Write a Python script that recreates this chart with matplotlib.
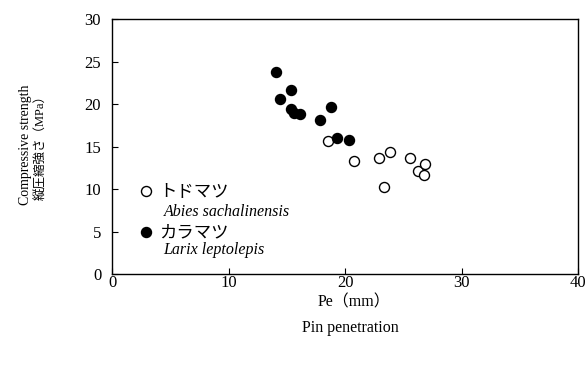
import matplotlib.pyplot as plt

# トドマツ (open circles)
todo_pe = [18.5, 20.8, 22.9, 23.85, 23.3, 25.6, 26.3, 26.9, 26.8]
todo_cs = [15.6, 13.3, 13.7, 14.3, 10.2, 13.6, 12.15, 13.0, 11.7]

# カラマツ (filled circles)
kara_pe = [14.05, 14.4, 15.35, 15.35, 15.6, 16.1, 17.8, 18.8, 19.3, 20.3]
kara_cs = [23.8, 20.55, 21.6, 19.4, 19.0, 18.8, 18.1, 19.7, 16.0, 15.8]

x_ticks = [0, 10, 20, 30, 40]
y_ticks = [0, 5, 10, 15, 20, 25, 30]

SERIF = ["Liberation Serif", "Noto Sans CJK JP"]
JP = ["Noto Sans CJK JP", "Liberation Serif"]
W, H = 586, 365


def px(x, y):
    # figure pixel (from top-left) -> figure fraction
    return x / W, 1 - y / H


def main():
    plt.rcParams["font.family"] = SERIF
    fig = plt.figure(figsize=(W / 100, H / 100), dpi=100)
    ax = fig.add_axes([0.1916, 0.2493, 0.7947, 0.6986])

    ax.scatter(todo_pe, todo_cs, s=52, facecolor="white", edgecolor="black",
               linewidth=1.0, zorder=3)
    ax.scatter(kara_pe, kara_cs, s=52, facecolor="black", edgecolor="black",
               linewidth=1.0, zorder=3)

    ax.set_xlim(0, 40)
    ax.set_ylim(0, 30)
    ax.set_xticks(x_ticks)
    ax.set_yticks(y_ticks)
    ax.tick_params(direction="in", length=4, width=0.8, labelsize=12)
    ax.tick_params(axis="x", pad=1)
    ax.tick_params(axis="y", pad=8)
    for s in ax.spines.values():
        s.set_linewidth(1.0)

    # axis titles, two lines each
    fig.text(*px(354, 302), "Pe（mm）", fontsize=11.5, ha="center", va="center")
    fig.text(*px(350, 328), "Pin penetration", fontsize=11.5, ha="center",
             va="center")
    fig.text(*px(25, 145), "Compressive strength", fontsize=10, rotation=90,
             ha="center", va="center")
    fig.text(*px(41, 145), "縦圧縮強さ（MPa）", fontsize=9, rotation=90,
             ha="center", va="center")

    # hand-made legend
    ax.scatter([2.9], [9.76], s=52, facecolor="white", edgecolor="black",
               linewidth=1.0, zorder=3)
    ax.text(4.0, 9.76, "トドマツ", family=JP, fontsize=12.5, va="center")
    ax.text(4.4, 7.3, "Abies sachalinensis", fontsize=11.5, style="italic",
            va="center")
    ax.scatter([2.9], [4.94], s=52, facecolor="black", edgecolor="black",
               linewidth=1.0, zorder=3)
    ax.text(4.0, 4.94, "カラマツ", family=JP, fontsize=12.5, va="center")
    ax.text(4.4, 2.82, "Larix leptolepis", fontsize=11.5, style="italic",
            va="center")

    fig.savefig("out.png", dpi=100)
    plt.close(fig)


if __name__ == "__main__":
    main()
